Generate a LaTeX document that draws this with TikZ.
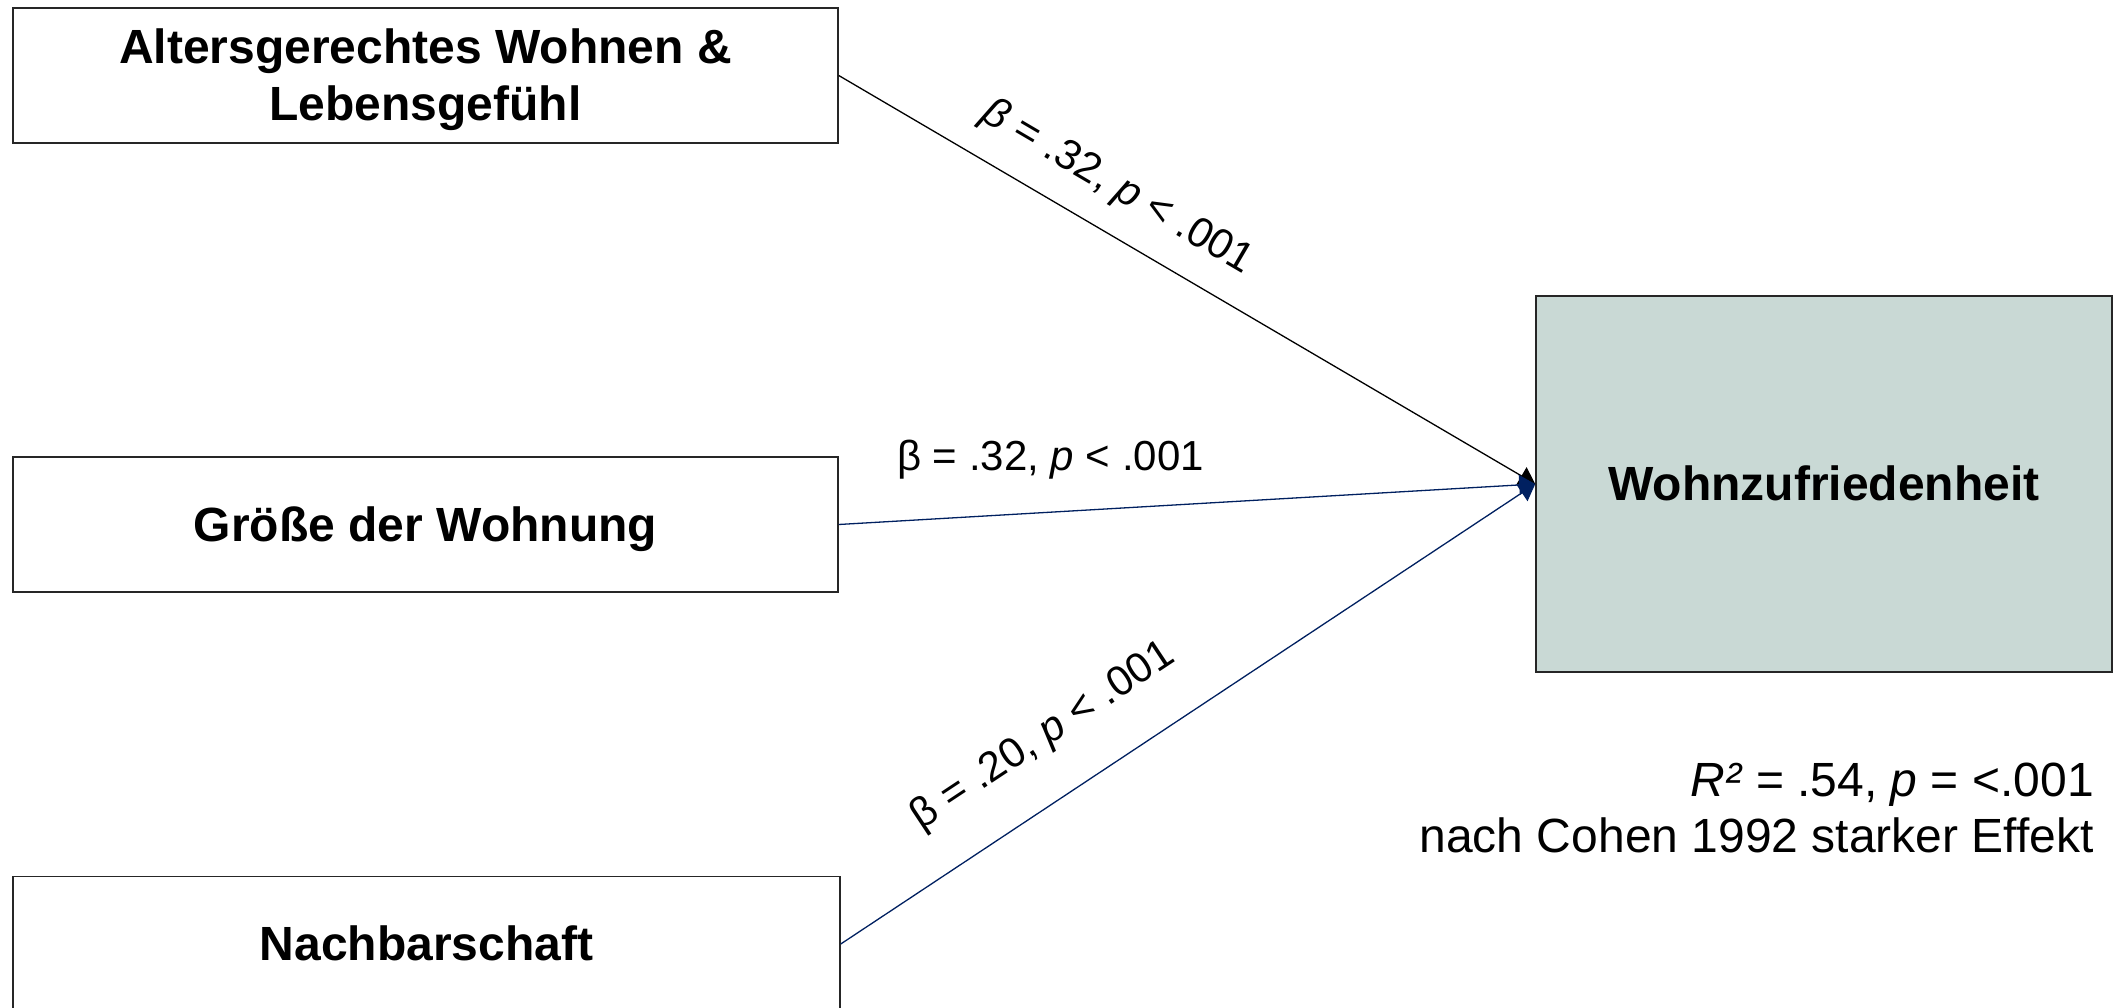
\documentclass[tikz,border=0pt]{standalone}
\usepackage{fontspec}
\setmainfont{Liberation Sans}
\usetikzlibrary{arrows.meta}
\definecolor{navy}{RGB}{0,32,96}
\definecolor{targetfill}{RGB}{201,217,213}
\begin{document}
\begin{tikzpicture}[x=1pt,y=-1pt,
  box/.style={draw=black!85, line width=1.5pt, fill=white, inner sep=0pt, align=center,
    text height=43.4pt, text depth=10.2pt,
    font=\fontsize{48}{57}\selectfont\bfseries},
  arr/.style={line width=1.3pt, -{Triangle[length=16pt,width=20pt]}},
  lab/.style={font=\fontsize{42}{50}\selectfont, inner sep=0pt, text=black},
  note/.style={font=\fontsize{48}{57}\selectfont, inner sep=0pt, anchor=base east}]
\useasboundingbox (0,0) rectangle (2113,1008);
\clip (0,0) rectangle (2113,1008);
\node[box, text height=100.4pt, minimum width=825pt, minimum height=135pt] (b1) at (425.5,75.5) {Altersgerechtes Wohnen \&\\Lebensgefühl};
\node[box, minimum width=825pt, minimum height=135pt] (b2) at (425.5,524.5) {Größe der Wohnung};
\node[box, minimum width=827pt, minimum height=135pt] (b3) at (426.5,944) {Nachbarschaft};
\node[box, fill=targetfill, minimum width=576pt, minimum height=376pt] (t) at (1824,484) {Wohnzufriedenheit};
\draw[arr] (b1.east) -- (t.west)
  node[lab, pos=0.368, sloped, above=24pt] {\textit{β} = .32, \textit{p} < .001};
\draw[arr, navy] (b2.east) -- (t.west)
  node[lab, pos=0.304, anchor=base, yshift=42pt] {β = .32, \textit{p} < .001};
\draw[arr, navy] (b3.east) -- (t.west)
  node[lab, pos=0.34, sloped, above=41pt] {β = .20, \textit{p} < .001};
\node[note] (r1) at (2094,796) {\textit{R²} = .54, \textit{p} = <.001};
\node[note] (r2) at (2094,852) {nach Cohen 1992 starker Effekt};
\end{tikzpicture}
\end{document}
